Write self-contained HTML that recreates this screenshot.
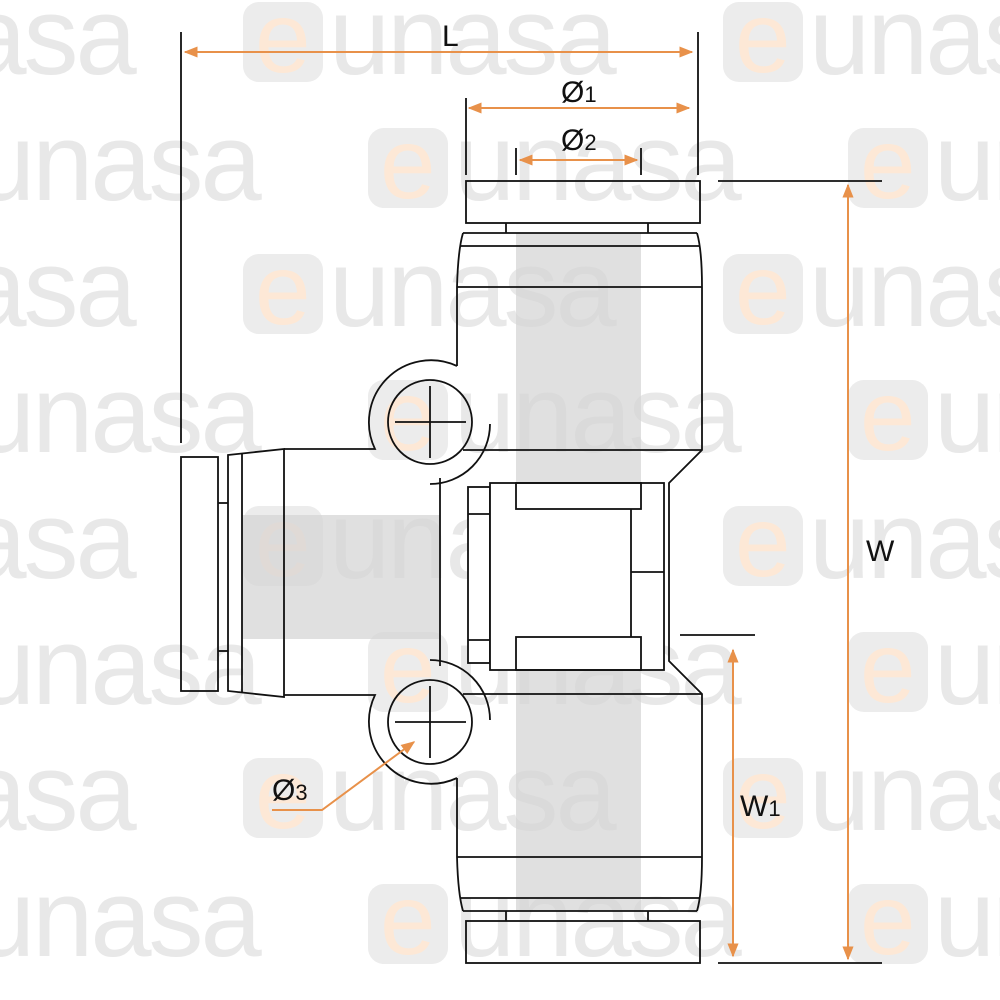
<!DOCTYPE html>
<html><head><meta charset="utf-8"><style>
html,body{margin:0;padding:0;background:#fff}
svg{display:block}
.wm{font-family:"Liberation Sans",sans-serif;font-size:110px;fill:#e8e8e8;letter-spacing:-3px}
.we{font-family:"Liberation Sans",sans-serif;font-size:100px;fill:#fde8d6}
.lbl{font-family:"Liberation Sans",sans-serif;font-size:30px;fill:#111}
</style></head><body>
<svg width="1000" height="1000" viewBox="0 0 1000 1000" xmlns="http://www.w3.org/2000/svg">
<defs>
<g id="logo">
<rect x="0" y="0" width="80" height="80" rx="16" fill="#ececec"/>
<text x="12" y="70" class="we">e</text>
<text x="86" y="72" class="wm">unasa</text>
</g>
<marker id="ah" viewBox="0 0 10 10" refX="9" refY="5" markerWidth="7" markerHeight="7" orient="auto-start-reverse">
<path d="M0,1 L10,5 L0,9 z" fill="#e8914a"/>
</marker>
</defs>
<g>
<use href="#logo" x="-237" y="2"/><use href="#logo" x="243" y="2"/><use href="#logo" x="723" y="2"/>
<use href="#logo" x="-112" y="128"/><use href="#logo" x="368" y="128"/><use href="#logo" x="848" y="128"/>
<use href="#logo" x="-237" y="254"/><use href="#logo" x="243" y="254"/><use href="#logo" x="723" y="254"/>
<use href="#logo" x="-112" y="380"/><use href="#logo" x="368" y="380"/><use href="#logo" x="848" y="380"/>
<use href="#logo" x="-237" y="506"/><use href="#logo" x="243" y="506"/><use href="#logo" x="723" y="506"/>
<use href="#logo" x="-112" y="632"/><use href="#logo" x="368" y="632"/><use href="#logo" x="848" y="632"/>
<use href="#logo" x="-237" y="758"/><use href="#logo" x="243" y="758"/><use href="#logo" x="723" y="758"/>
<use href="#logo" x="-112" y="884"/><use href="#logo" x="368" y="884"/><use href="#logo" x="848" y="884"/>
</g>
<rect x="516" y="233" width="125" height="678" fill="#d6d6d6" opacity="0.75"/>
<rect x="242" y="515" width="198" height="124" fill="#d6d6d6" opacity="0.75"/>

<g fill="none" stroke="#111" stroke-width="1.8">
<g id="top">
<rect x="466" y="181" width="234" height="42"/>
<line x1="506" y1="223" x2="506" y2="233"/><line x1="648" y1="223" x2="648" y2="233"/>
<line x1="463" y1="233" x2="697" y2="233"/>
<line x1="461" y1="246" x2="699" y2="246"/>
<path d="M463,233 Q458,250 457,287 L457,366"/>
<path d="M697,233 Q702,250 702,287 L702,450 L669,483 L669,572"/>
<line x1="457" y1="287" x2="702" y2="287"/>
<path d="M457,366 A62,62 0 0 0 375,449 L284,449"/>
<path d="M490,424 A60,60 0 0 1 430,484"/>
<circle cx="430" cy="422" r="42"/>
<line x1="395" y1="422" x2="466" y2="422"/><line x1="430" y1="386" x2="430" y2="458"/>
<line x1="463" y1="450" x2="702" y2="450"/>
<line x1="440" y1="478" x2="440" y2="572"/>
</g>
<use href="#top" transform="translate(0,1144) scale(1,-1)"/>
<rect x="181" y="457" width="37" height="234"/>
<line x1="218" y1="503" x2="228" y2="503"/><line x1="218" y1="651" x2="228" y2="651"/>
<path d="M228,455 L284,449 L284,697 L228,691 Z"/>
<line x1="242" y1="453" x2="242" y2="693"/>
<rect x="468" y="487" width="22" height="176" fill="#fff"/>
<line x1="468" y1="514" x2="490" y2="514"/><line x1="468" y1="640" x2="490" y2="640"/>
<rect x="490" y="483" width="174" height="187" fill="#fff"/>
<rect x="516" y="483" width="125" height="26"/>
<rect x="516" y="637" width="125" height="33"/>
<line x1="631" y1="509" x2="631" y2="637"/>
<line x1="631" y1="572" x2="664" y2="572"/>
<line x1="181" y1="32" x2="181" y2="443"/>
<line x1="698" y1="32" x2="698" y2="175"/>
<line x1="466" y1="98" x2="466" y2="175"/>
<line x1="516" y1="148" x2="516" y2="175"/><line x1="641" y1="148" x2="641" y2="175"/>
<line x1="718" y1="181" x2="882" y2="181"/>
<line x1="718" y1="963" x2="882" y2="963"/>
<line x1="680" y1="635" x2="755" y2="635"/>
</g>
<g stroke="#e8914a" stroke-width="2" fill="none">
<line x1="185" y1="52" x2="692" y2="52" marker-start="url(#ah)" marker-end="url(#ah)"/>
<line x1="469" y1="108" x2="689" y2="108" marker-start="url(#ah)" marker-end="url(#ah)"/>
<line x1="520" y1="160" x2="637" y2="160" marker-start="url(#ah)" marker-end="url(#ah)"/>
<line x1="848" y1="185" x2="848" y2="959" marker-start="url(#ah)" marker-end="url(#ah)"/>
<line x1="733" y1="650" x2="733" y2="956" marker-start="url(#ah)" marker-end="url(#ah)"/>
<polyline points="272,810 322,810 414,742" marker-end="url(#ah)"/>
</g>
<text x="442" y="46" class="lbl">L</text>
<text x="561" y="102" class="lbl">Ø<tspan font-size="22">1</tspan></text>
<text x="561" y="150" class="lbl">Ø<tspan font-size="22">2</tspan></text>
<text x="866" y="561" class="lbl">W</text>
<text x="740" y="816" class="lbl">W<tspan font-size="22">1</tspan></text>
<text x="272" y="800" class="lbl">Ø<tspan font-size="22">3</tspan></text>
</svg>
</body></html>
